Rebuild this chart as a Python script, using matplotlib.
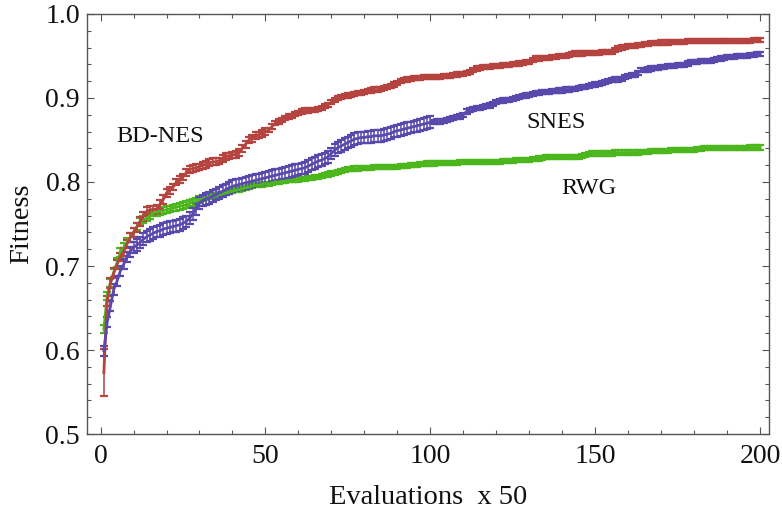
import numpy as np
import matplotlib.pyplot as plt
from matplotlib.ticker import MultipleLocator

plt.rcParams['font.family'] = ['Liberation Serif', 'DejaVu Serif']

# evaluations (x 50)
evals = list(range(1, 201))

bdnes = [
    0.573, 0.658, 0.680, 0.692, 0.702, 0.711, 0.717, 0.726, 0.734, 0.740,
    0.746, 0.753, 0.759, 0.765, 0.767, 0.767, 0.768, 0.773, 0.779, 0.787,
    0.790, 0.794, 0.800, 0.803, 0.806, 0.811, 0.815, 0.816, 0.817, 0.818,
    0.820, 0.821, 0.823, 0.824, 0.824, 0.825, 0.828, 0.830, 0.831, 0.832,
    0.833, 0.835, 0.840, 0.845, 0.850, 0.852, 0.855, 0.856, 0.858, 0.860,
    0.862, 0.866, 0.870, 0.872, 0.874, 0.876, 0.878, 0.879, 0.881, 0.882,
    0.884, 0.885, 0.885, 0.886, 0.886, 0.887, 0.888, 0.890, 0.892, 0.895,
    0.898, 0.900, 0.901, 0.902, 0.903, 0.904, 0.905, 0.906, 0.906, 0.907,
    0.908, 0.909, 0.910, 0.910, 0.911, 0.912, 0.913, 0.914, 0.916, 0.918,
    0.920, 0.921, 0.922, 0.923, 0.924, 0.924, 0.924, 0.925, 0.925, 0.925,
    0.925, 0.925, 0.925, 0.926, 0.926, 0.926, 0.927, 0.928, 0.929, 0.929,
    0.930, 0.931, 0.933, 0.935, 0.936, 0.937, 0.937, 0.937, 0.938, 0.938,
    0.938, 0.939, 0.939, 0.939, 0.940, 0.940, 0.941, 0.942, 0.943, 0.943,
    0.945, 0.947, 0.947, 0.948, 0.948, 0.948, 0.949, 0.949, 0.950, 0.950,
    0.950, 0.951, 0.952, 0.953, 0.953, 0.953, 0.954, 0.954, 0.954, 0.954,
    0.954, 0.955, 0.955, 0.955, 0.955, 0.957, 0.959, 0.960, 0.961, 0.962,
    0.962, 0.962, 0.963, 0.963, 0.964, 0.964, 0.965, 0.965, 0.965, 0.966,
    0.966, 0.966, 0.967, 0.967, 0.967, 0.967, 0.967, 0.968, 0.968, 0.968,
    0.968, 0.968, 0.968, 0.968, 0.968, 0.968, 0.968, 0.968, 0.968, 0.968,
    0.968, 0.968, 0.968, 0.968, 0.968, 0.968, 0.968, 0.969, 0.969, 0.969,
]

snes = [
    0.599, 0.633, 0.652, 0.672, 0.682, 0.694, 0.702, 0.711, 0.717, 0.722,
    0.725, 0.728, 0.732, 0.735, 0.737, 0.739, 0.741, 0.742, 0.744, 0.745,
    0.746, 0.747, 0.748, 0.749, 0.751, 0.753, 0.757, 0.762, 0.768, 0.775,
    0.778, 0.780, 0.781, 0.783, 0.785, 0.787, 0.789, 0.791, 0.793, 0.795,
    0.796, 0.797, 0.798, 0.799, 0.800, 0.801, 0.802, 0.803, 0.804, 0.805,
    0.806, 0.807, 0.808, 0.809, 0.810, 0.811, 0.812, 0.813, 0.814, 0.815,
    0.816, 0.817, 0.819, 0.821, 0.823, 0.825, 0.826, 0.828, 0.830, 0.834,
    0.838, 0.841, 0.843, 0.845, 0.847, 0.849, 0.851, 0.852, 0.853, 0.853,
    0.854, 0.854, 0.855, 0.855, 0.855, 0.856, 0.857, 0.858, 0.860, 0.861,
    0.862, 0.863, 0.864, 0.865, 0.866, 0.867, 0.868, 0.869, 0.870, 0.871,
    0.871, 0.872, 0.872, 0.873, 0.874, 0.875, 0.876, 0.877, 0.878, 0.880,
    0.884, 0.886, 0.887, 0.888, 0.888, 0.889, 0.890, 0.891, 0.893, 0.895,
    0.896, 0.897, 0.898, 0.898, 0.899, 0.900, 0.901, 0.902, 0.903, 0.904,
    0.905, 0.906, 0.906, 0.907, 0.907, 0.907, 0.908, 0.908, 0.909, 0.909,
    0.910, 0.910, 0.911, 0.911, 0.912, 0.913, 0.913, 0.914, 0.915, 0.916,
    0.917, 0.918, 0.919, 0.920, 0.921, 0.922, 0.922, 0.923, 0.925, 0.926,
    0.927, 0.927, 0.930, 0.933, 0.933, 0.934, 0.935, 0.936, 0.936, 0.937,
    0.937, 0.938, 0.938, 0.938, 0.939, 0.939, 0.939, 0.941, 0.943, 0.943,
    0.943, 0.944, 0.944, 0.944, 0.944, 0.945, 0.946, 0.947, 0.948, 0.949,
    0.949, 0.949, 0.950, 0.950, 0.950, 0.950, 0.951, 0.951, 0.952, 0.952,
]

rwg = [
    0.625, 0.664, 0.680, 0.692, 0.704, 0.716, 0.722, 0.728, 0.734, 0.740,
    0.747, 0.753, 0.755, 0.757, 0.760, 0.763, 0.764, 0.765, 0.766, 0.767,
    0.768, 0.769, 0.770, 0.771, 0.772, 0.773, 0.775, 0.776, 0.777, 0.779,
    0.780, 0.781, 0.782, 0.783, 0.784, 0.785, 0.786, 0.787, 0.788, 0.789,
    0.790, 0.791, 0.792, 0.793, 0.794, 0.795, 0.796, 0.796, 0.797, 0.798,
    0.798, 0.799, 0.800, 0.800, 0.801, 0.801, 0.802, 0.802, 0.803, 0.803,
    0.804, 0.804, 0.805, 0.805, 0.806, 0.806, 0.807, 0.808, 0.809, 0.810,
    0.811, 0.812, 0.813, 0.814, 0.815, 0.815, 0.816, 0.816, 0.817, 0.817,
    0.817, 0.817, 0.818, 0.818, 0.818, 0.818, 0.818, 0.818, 0.818, 0.818,
    0.819, 0.819, 0.819, 0.820, 0.820, 0.820, 0.821, 0.821, 0.822, 0.822,
    0.822, 0.823, 0.823, 0.823, 0.823, 0.823, 0.823, 0.823, 0.824, 0.824,
    0.824, 0.824, 0.824, 0.824, 0.824, 0.824, 0.824, 0.824, 0.824, 0.824,
    0.824, 0.825, 0.825, 0.825, 0.825, 0.826, 0.826, 0.826, 0.826, 0.826,
    0.827, 0.827, 0.828, 0.829, 0.830, 0.830, 0.830, 0.830, 0.830, 0.830,
    0.830, 0.830, 0.830, 0.830, 0.830, 0.831, 0.832, 0.833, 0.834, 0.834,
    0.834, 0.834, 0.834, 0.834, 0.834, 0.835, 0.835, 0.835, 0.835, 0.835,
    0.835, 0.835, 0.835, 0.836, 0.836, 0.836, 0.837, 0.837, 0.837, 0.837,
    0.837, 0.837, 0.838, 0.838, 0.838, 0.838, 0.838, 0.838, 0.838, 0.838,
    0.839, 0.839, 0.840, 0.840, 0.840, 0.840, 0.840, 0.840, 0.840, 0.840,
    0.840, 0.840, 0.840, 0.840, 0.840, 0.840, 0.841, 0.841, 0.841, 0.841,
]

# standard errors
bdnes_err = [0.028, 0.006, 0.006, 0.006, 0.005, 0.005, 0.005, 0.005, 0.005, 0.005] + [0.005] * 10 + [0.004] * 30 + [0.0025] * 150
snes_err = [0.006] * 10 + [0.007] * 90 + [0.0025] * 100
rwg_err = [0.005] * 10 + [0.004] * 20 + [0.0025] * 170

labels = ['BD-NES', 'SNES', 'RWG']
label_x = [18.0, 138.1, 148.1]
label_y = [0.854, 0.871, 0.792]

c_red = '#b5433f'
c_purple = '#5a49ad'
c_green = '#4cb71d'

fig = plt.figure(figsize=(7.82, 5.14), dpi=100)
ax = fig.add_axes([0.1113, 0.1556, 0.8721, 0.8172])

for vals, errs, col in [(rwg, rwg_err, c_green), (bdnes, bdnes_err, c_red), (snes, snes_err, c_purple)]:
    ax.errorbar(evals, vals, yerr=errs, fmt='-', color=col, lw=2.0,
                elinewidth=1.1, capsize=2.6, capthick=1.6)

for t, tx, ty in zip(labels, label_x, label_y):
    ax.text(tx, ty, t, fontsize=17.5, ha='center', va='center', color='#111111')

ax.set_xlim(-4.1, 202.7)
ax.set_ylim(0.5, 1.0)
ax.xaxis.set_major_locator(MultipleLocator(50))
ax.xaxis.set_minor_locator(MultipleLocator(10))
ax.yaxis.set_major_locator(MultipleLocator(0.1))
ax.yaxis.set_minor_locator(MultipleLocator(0.02))
ax.set_xticks([0, 50, 100, 150, 200])
ax.set_xticklabels(['0', '50', '100', '150', '200'])
ax.set_yticks([0.5, 0.6, 0.7, 0.8, 0.9, 1.0])
ax.set_yticklabels(['0.5', '0.6', '0.7', '0.8', '0.9', '1.0'])

ax.tick_params(which='both', direction='in', top=True, right=True, color='#555555', width=0.8)
ax.tick_params(which='major', length=5, labelsize=20, labelcolor='#111111')
ax.tick_params(which='minor', length=3)
ax.tick_params(axis='x', pad=7)
ax.tick_params(axis='y', pad=5)
for s in ax.spines.values():
    s.set_color('#555555')
    s.set_linewidth(1.0)

ax.set_xlabel('Evaluations  x 50', fontsize=20.5, color='#111111', labelpad=12)
ax.set_ylabel('Fitness', fontsize=20.5, color='#111111', labelpad=8)

fig.savefig('out.png', dpi=100)
